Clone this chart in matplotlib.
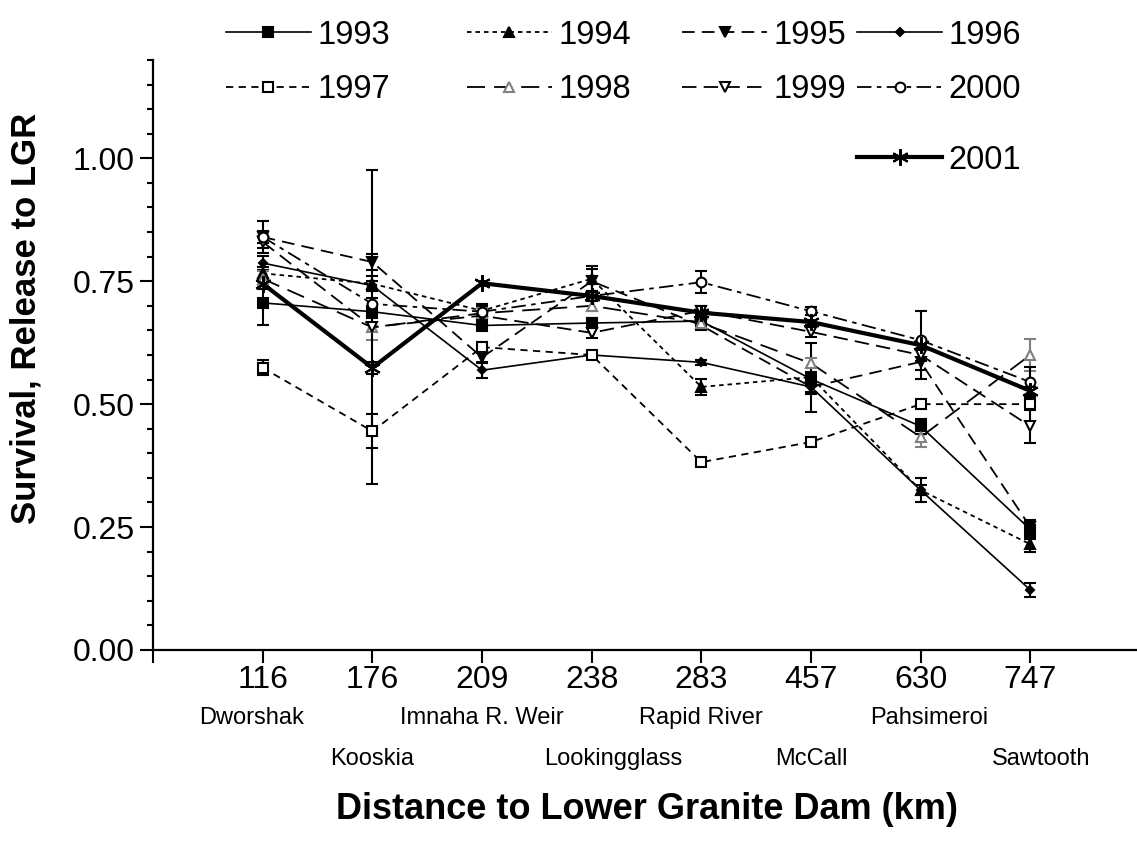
import matplotlib
matplotlib.use("Agg")
import numpy as np
from matplotlib import pyplot as plt
from matplotlib.ticker import FixedLocator, MultipleLocator, FormatStrFormatter

plt.rcParams["font.family"] = ["Liberation Sans", "DejaVu Sans"]

# distance to Lower Granite Dam (km) and release sites
km_labels = ["116", "176", "209", "238", "283", "457", "630", "747"]
site_names = ["Dworshak", "Kooskia", "Imnaha R. Weir", "Lookingglass",
              "Rapid River", "McCall", "Pahsimeroi", "Sawtooth"]
years = ["1993", "1994", "1995", "1996", "1997", "1998", "1999", "2000", "2001"]

# survival estimates, release to LGR, and their standard errors
s1993 = [0.706, 0.688, 0.660, 0.665, 0.669, 0.551, 0.455, 0.245]
e1993 = [0.044, 0.012, 0.012, 0.010, 0.012, 0.015, 0.015, 0.020]
s1994 = [0.766, 0.745, 0.690, 0.755, 0.535, 0.555, 0.325, 0.215]
e1994 = [0.012, 0.015, 0.010, 0.025, 0.017, 0.070, 0.025, 0.015]
s1995 = [0.840, 0.789, 0.595, 0.750, 0.660, 0.535, 0.586, 0.250]
e1995 = [0.012, 0.017, 0.010, 0.025, 0.010, 0.015, 0.035, 0.012]
s1996 = [0.787, 0.741, 0.569, 0.600, 0.585, 0.535, 0.325, 0.122]
e1996 = [0.015, 0.010, 0.015, 0.005, 0.005, 0.010, 0.010, 0.015]
s1997 = [0.574, 0.445, 0.616, 0.600, 0.382, 0.423, 0.500, 0.500]
e1997 = [0.015, 0.035, 0.010, 0.006, 0.005, 0.005, 0.005, 0.012]
s1998 = [0.755, 0.656, 0.685, 0.700, 0.665, 0.583, 0.433, 0.600]
e1998 = [0.015, 0.025, 0.010, 0.010, 0.010, 0.010, 0.020, 0.032]
s1999 = [0.830, 0.657, 0.680, 0.645, 0.690, 0.647, 0.600, 0.455]
e1999 = [0.012, 0.320, 0.010, 0.010, 0.010, 0.010, 0.012, 0.035]
s2000 = [0.840, 0.704, 0.688, 0.720, 0.748, 0.689, 0.630, 0.545]
e2000 = [0.033, 0.012, 0.015, 0.010, 0.022, 0.008, 0.060, 0.030]
s2001 = [0.745, 0.574, 0.746, 0.720, 0.686, 0.667, 0.620, 0.527]
e2001 = [0.010, 0.012, 0.005, 0.005, 0.005, 0.005, 0.008, 0.008]

values = [s1993, s1994, s1995, s1996, s1997, s1998, s1999, s2000, s2001]
errors = [e1993, e1994, e1995, e1996, e1997, e1998, e1999, e2000, e2001]

grey = "#808080"
# linestyle, marker, markersize, face, edge/errorbar colour, line width
styles = [
    ("-", "s", 7, "black", "black", 1.2),
    ((0, (2.5, 2.2)), "^", 7, "black", "black", 1.3),
    ((0, (7, 4)), "v", 7, "black", "black", 1.3),
    ("-", "D", 4.5, "black", "black", 1.2),
    ((0, (4, 3)), "s", 7, "white", "black", 1.3),
    ((0, (10, 5)), "^", 7, "white", grey, 1.3),
    ((0, (8, 4)), "v", 7, "white", "black", 1.3),
    ((0, (8, 3, 2.5, 3)), "o", 7, "white", "black", 1.3),
    ("-", (6, 2, 0), 12, "black", "black", 3.0),
]

fig = plt.figure(figsize=(11.37, 8.44), dpi=100)
ax = fig.add_axes([0.1346, 0.2299, 0.868, 0.699])
x = np.arange(1, len(km_labels) + 1)

handles = []
for vals, errs, (ls, mk, ms, mfc, ec, lw) in zip(values, errors, styles):
    cont = ax.errorbar(x, vals, yerr=errs, color="black", linestyle=ls,
                       linewidth=lw, marker=mk, markersize=ms,
                       markerfacecolor=mfc, markeredgecolor=ec,
                       markeredgewidth=1.5, ecolor=ec, elinewidth=1.5,
                       capsize=4.5, capthick=1.8, clip_on=False)
    handles.append(cont.lines[0])

# legend laid out as in the original: 4 columns, 2001 alone on a third row
legend_anchor = [(0.1988, 0.9585), (0.4107, 0.9585), (0.6000, 0.9585), (0.7540, 0.9585),
                 (0.1988, 0.8934), (0.4107, 0.8934), (0.6000, 0.8934), (0.7540, 0.8934),
                 (0.7540, 0.8104)]
for h, year, (lx, ly) in zip(handles, years, legend_anchor):
    fig.legend([h], [year], loc="center left", bbox_to_anchor=(lx, ly),
               frameon=False, fontsize=23.5, handlelength=2.6,
               handletextpad=0.2, borderpad=0, borderaxespad=0, numpoints=1)

ax.set_xlim(0, 9)
ax.set_xticks(np.arange(0, 9))
ax.set_xticklabels([""] + km_labels)
ax.set_ylim(0, 1.2)
ax.yaxis.set_major_locator(FixedLocator([0, 0.25, 0.5, 0.75, 1.0]))
ax.yaxis.set_minor_locator(MultipleLocator(0.05))
ax.yaxis.set_major_formatter(FormatStrFormatter("%.2f"))

ax.tick_params(axis="both", which="major", direction="out", length=9.5,
               width=1.5, labelsize=23)
ax.tick_params(axis="y", which="minor", direction="out", length=4.5, width=1.5)
ax.tick_params(axis="x", pad=1.5)
ax.tick_params(axis="y", pad=3.5)
for side in ["top", "right"]:
    ax.spines[side].set_visible(False)
for side in ["left", "bottom"]:
    ax.spines[side].set_linewidth(1.6)

# release-site names under the distances, in two staggered rows
name_row_y = [-0.1254, -0.195]
name_shift = [-0.1, 0.0, 0.0, 0.2, 0.0, 0.0, 0.08, 0.1]
trans = ax.get_xaxis_transform()
for i, name in enumerate(site_names):
    ax.text(x[i] + name_shift[i], name_row_y[i % 2], name, transform=trans,
            ha="center", va="baseline", fontsize=17, clip_on=False)

ax.set_xlabel("Distance to Lower Granite Dam (km)", fontsize=26, fontweight="bold")
ax.xaxis.set_label_coords(0.5, -0.240)
ax.set_ylabel("Survival, Release to LGR", fontsize=25, fontweight="bold")
ax.yaxis.set_label_coords(-0.112, 0.5625)

plt.savefig("out.png", dpi=100)
